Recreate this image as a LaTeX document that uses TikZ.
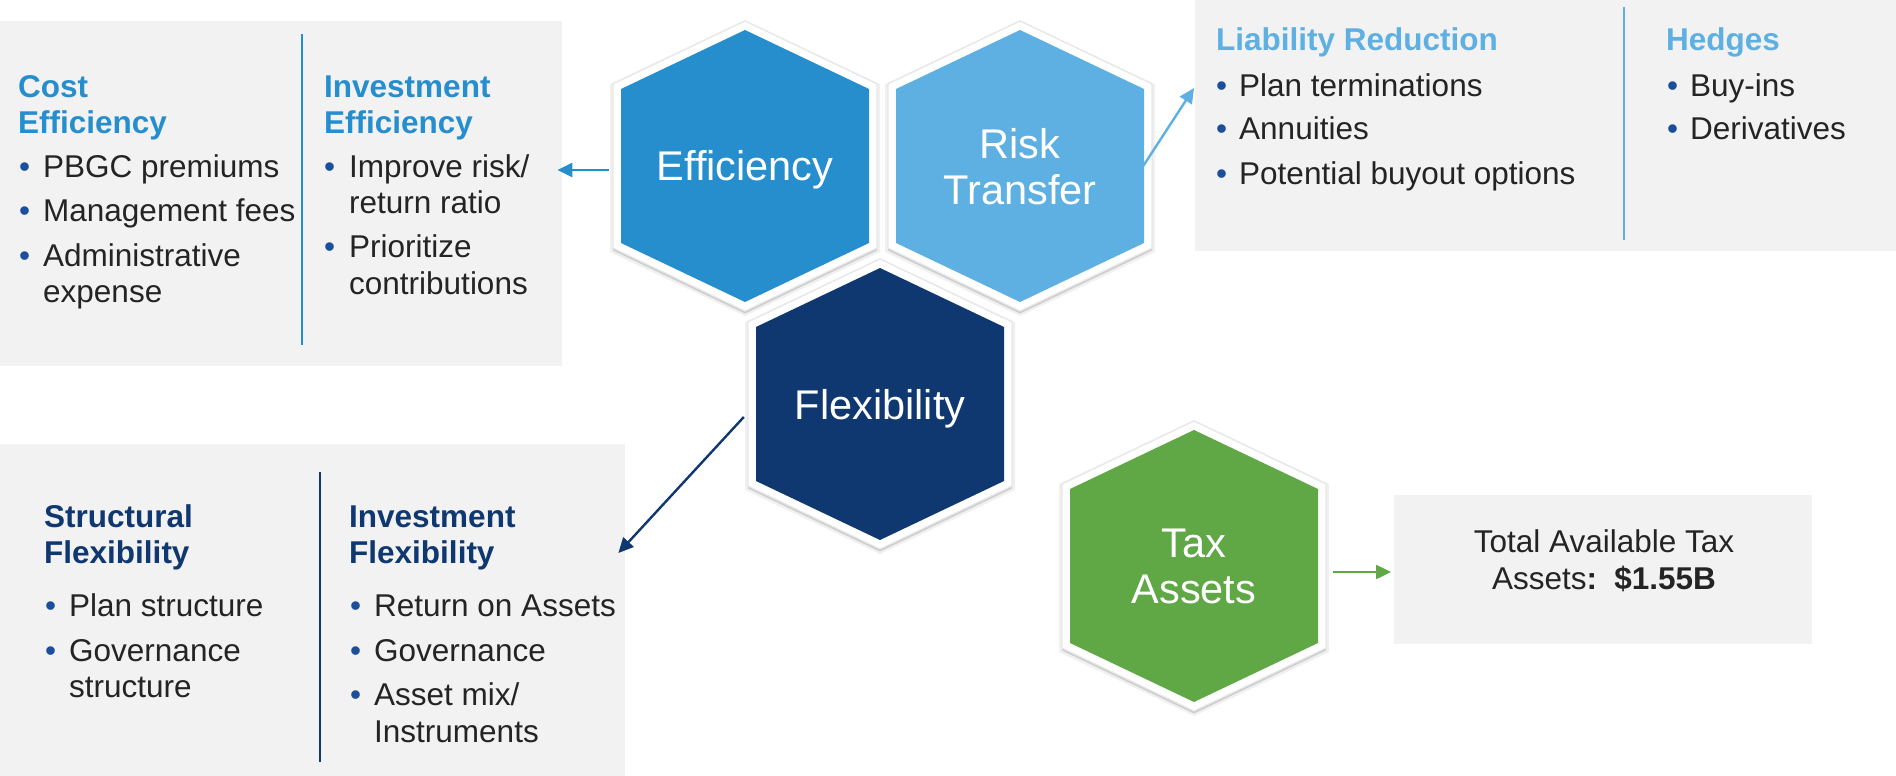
\documentclass[tikz,border=0pt]{standalone}
\usepackage{fontspec}
\setmainfont{Liberation Sans}
\usetikzlibrary{arrows.meta,shadows,calc}
\definecolor{effblue}{HTML}{268ECD}
\definecolor{riskblue}{HTML}{5EB0E2}
\definecolor{flexnavy}{HTML}{0F3870}
\definecolor{taxgreen}{HTML}{60A846}
\definecolor{boxgray}{HTML}{F2F2F2}
\definecolor{textdark}{HTML}{242424}
\definecolor{bulblue}{HTML}{1B4E9B}
\newcommand\myBody{\fontsize{31.5}{36}\selectfont}
\newcommand\myHexFont{\fontsize{41.5}{46}\selectfont}
\newcommand\myHexShape[2]{%
  \fill[black, opacity=.06, shift={(#1)}, yshift=-2pt]
    (0,-148) -- (135,-84) -- (135,84) -- (0,148) -- (-135,84) -- (-135,-84) -- cycle;
  \fill[white, draw=black!9, line width=1.2pt, drop shadow={shadow xshift=0pt, shadow yshift=-2.5pt, opacity=.14, fill=black}, shift={(#1)}]
    (0,-145) -- (132,-82) -- (132,82) -- (0,145) -- (-132,82) -- (-132,-82) -- cycle;
  \fill[#2, shift={(#1)}]
    (0,-136) -- (124,-77) -- (124,77) -- (0,136) -- (-124,77) -- (-124,-77) -- cycle;
}
\tikzset{
  box/.style={fill=boxgray, draw=none, inner sep=0pt, anchor=north west},
  txt/.style={anchor=base west, inner sep=0pt, text=textdark, font=\myBody},
  head/.style={anchor=base west, inner sep=0pt, font=\myBody\bfseries},
  bul/.style={anchor=base west, inner sep=0pt, text=bulblue, font=\myBody},
  hexnode/.style={minimum width=264pt, minimum height=290pt, inner sep=0pt, align=center, text=white, font=\myHexFont},
  hexlabel/.style={inner sep=0pt, align=center, text=white, font=\myHexFont},
  divider/.style={line width=2.6pt},
  arr/.style={line width=2.4pt, -{Triangle[length=15pt,width=14pt]}},
}
\begin{document}
\begin{tikzpicture}[x=1pt,y=-1pt]
\useasboundingbox[fill=white] (0,0) rectangle (1896,776);

% boxes
\node[box, minimum width=562pt, minimum height=345pt] (effbox) at (0,21) {};
\node[box, minimum width=701pt, minimum height=251pt] (liabbox) at (1195,0) {};
\node[box, minimum width=625pt, minimum height=332pt] (flexbox) at (0,444) {};
\node[box, minimum width=418pt, minimum height=149pt] (taxbox) at (1394,495) {};

% dividers
\draw[divider, effblue] (302,34) -- (302,345);
\draw[divider, riskblue] (1624,7) -- (1624,240);
\draw[divider, flexnavy] (320,472) -- (320,762);

% hexagons
\coordinate (effC) at (745,166);
\coordinate (riskC) at (1020,166);
\coordinate (flexC) at (880,404);
\coordinate (taxC) at (1194,566);
\myHexShape{effC}{effblue}
\myHexShape{riskC}{riskblue}
\myHexShape{flexC}{flexnavy}
\myHexShape{taxC}{taxgreen}
\node[hexnode] (eff) at (effC) {};
\node[hexnode] (risk) at (riskC) {};
\node[hexnode] (flex) at (flexC) {};
\node[hexnode] (tax) at (taxC) {};
\node[hexlabel] (effL) at ([yshift=-4pt]eff.center) {Efficiency};
\node[hexlabel] (riskL) at ([yshift=-1pt]risk.center) {Risk\\Transfer};
\node[hexlabel] (flexL) at ([yshift=-5pt]flex.center) {Flexibility};
\node[hexlabel] (taxL) at (tax.center) {Tax\\Assets};

% top-left box text
\node[head, text=effblue] (ce1) at (18,97) {Cost};
\node[head, text=effblue] (ce2) at (18,133) {Efficiency};
\node[bul] (ceb1) at (19,177) {•};
\node[txt] (ce3) at (43,177) {PBGC premiums};
\node[bul] (ceb2) at (19,221) {•};
\node[txt] (ce4) at (43,221) {Management fees};
\node[bul] (ceb3) at (19,266) {•};
\node[txt] (ce5) at (43,266) {Administrative};
\node[txt] (ce6) at (43,302) {expense};

\node[head, text=effblue] (ie1) at (324,97) {Investment};
\node[head, text=effblue] (ie2) at (324,133) {Efficiency};
\node[bul] (ieb1) at (324,177) {•};
\node[txt] (ie3) at (349,177) {Improve risk/};
\node[txt] (ie4) at (349,213) {return ratio};
\node[bul] (ieb2) at (324,257) {•};
\node[txt] (ie5) at (349,257) {Prioritize};
\node[txt] (ie6) at (349,294) {contributions};

% top-right box text
\node[head, text=riskblue] (lr1) at (1216,51) {Liability Reduction};
\node[bul] (lrb1) at (1216,96) {•};
\node[txt] (lr2) at (1239,96) {Plan terminations};
\node[bul] (lrb2) at (1216,139) {•};
\node[txt] (lr3) at (1239,139) {Annuities};
\node[bul] (lrb3) at (1216,184) {•};
\node[txt] (lr4) at (1239,184) {Potential buyout options};

\node[head, text=riskblue] (hd1) at (1666,51) {Hedges};
\node[bul] (hdb1) at (1667,96) {•};
\node[txt] (hd2) at (1690,96) {Buy-ins};
\node[bul] (hdb2) at (1667,139) {•};
\node[txt] (hd3) at (1690,139) {Derivatives};

% bottom-left box text
\node[head, text=flexnavy] (sf1) at (44,527) {Structural};
\node[head, text=flexnavy] (sf2) at (44,563) {Flexibility};
\node[bul] (sfb1) at (45,616) {•};
\node[txt] (sf3) at (69,616) {Plan structure};
\node[bul] (sfb2) at (45,661) {•};
\node[txt] (sf4) at (69,661) {Governance};
\node[txt] (sf5) at (69,697) {structure};

\node[head, text=flexnavy] (if1) at (349,527) {Investment};
\node[head, text=flexnavy] (if2) at (349,563) {Flexibility};
\node[bul] (ifb1) at (350,616) {•};
\node[txt] (if3) at (374,616) {Return on Assets};
\node[bul] (ifb2) at (350,661) {•};
\node[txt] (if4) at (374,661) {Governance};
\node[bul] (ifb3) at (350,705) {•};
\node[txt] (if5) at (374,705) {Asset mix/};
\node[txt] (if6) at (374,742) {Instruments};

% tax box text
\node[txt, anchor=base] (tx1) at (1604,552) {Total Available Tax};
\node[txt, anchor=base] (tx2) at (1604,589) {Assets\textbf{:}\hspace{0.55em}\textbf{\$1.55B}};

% connectors
\draw[arr, effblue] ([shift={(-4,4)}]eff.west) coordinate (a1) -- ([xshift=-5pt]a1 -| effbox.east);
\draw[arr, riskblue] ([xshift=-9pt]risk.east) -- ($(liabbox.north west)+(-1,88)$);
\draw[arr, flexnavy] ([shift={(-4,13)}]flex.west) -- ($(flexbox.north east)+(-7,109)$);
\draw[arr, taxgreen] ([shift={(7,6)}]tax.east) coordinate (a4) -- ([xshift=-3pt]a4 -| taxbox.west);
\end{tikzpicture}
\end{document}
